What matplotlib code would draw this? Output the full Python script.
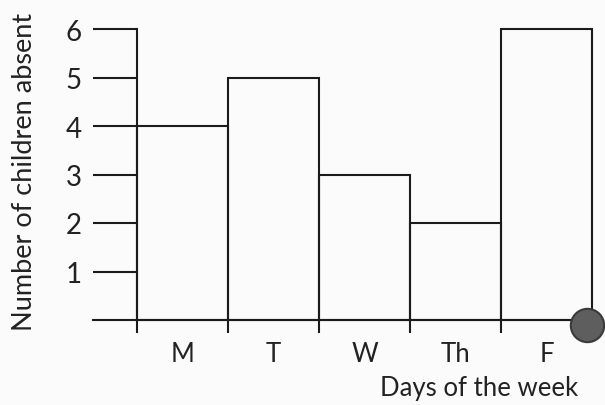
import matplotlib
matplotlib.use("Agg")
import matplotlib.pyplot as plt
import numpy as np

days = ["M", "T", "W", "Th", "F"]
absent = [4, 5, 3, 2, 6]
y_ticks = [1, 2, 3, 4, 5, 6]

W, H = 605, 406
fig = plt.figure(figsize=(W / 100, H / 100), dpi=100)
fig.patch.set_facecolor("#fbfbfb")
plt.rcParams["font.family"] = ["Lato", "DejaVu Sans"]

ax = fig.add_axes([93 / W, (H - 321) / H, (600 - 93) / W, (321 - 30) / H])
ax.set_facecolor("none")
ink = "#1b1b1b"
txt = "#222222"
lw = 1.5

x = np.arange(len(days))
ax.bar(x + 0.5, absent, width=1.0, fill=False, edgecolor=ink, linewidth=lw, clip_on=False)

ax.set_xlim(-0.4835, 5.088)
ax.set_ylim(0, 6)

for s in ["top", "right"]:
    ax.spines[s].set_visible(False)
ax.spines["left"].set_position(("data", 0))
ax.spines["left"].set_bounds(0, 6)
ax.spines["left"].set_color(ink)
ax.spines["left"].set_linewidth(lw)
ax.spines["bottom"].set_bounds(-0.4835, len(days))
ax.spines["bottom"].set_color(ink)
ax.spines["bottom"].set_linewidth(lw)

ax.set_yticks(y_ticks)
ax.set_yticklabels([str(v) for v in y_ticks], fontsize=20, color=txt)
ax.tick_params(axis="y", direction="out", length=31.7, width=lw, color=ink, pad=8)

ax.set_xticks(np.arange(len(days) + 1)[:-1])
ax.set_xticklabels([""] * len(days))
ax.tick_params(axis="x", which="major", direction="out", length=9, width=lw, color=ink)
ax.set_xticks(x + 0.5, minor=True)
ax.set_xticklabels(days, minor=True, fontsize=18.5, color=txt)
ax.tick_params(axis="x", which="minor", length=0, pad=15)

ax.plot([len(days) - 0.05], [-0.1], marker="o", markersize=24, markerfacecolor="#5e5e5e",
        markeredgecolor="#3a3a3a", markeredgewidth=1.5, clip_on=False, zorder=5)

fig.text(479 / W, 1 - 389 / H, "Days of the week", ha="center", va="center", fontsize=18.5, color=txt)
fig.text(25 / W, 1 - 172 / H, "Number of children absent", ha="center", va="center",
         rotation=90, fontsize=19.5, color=txt)

fig.savefig("out.png", dpi=100, facecolor=fig.get_facecolor())
